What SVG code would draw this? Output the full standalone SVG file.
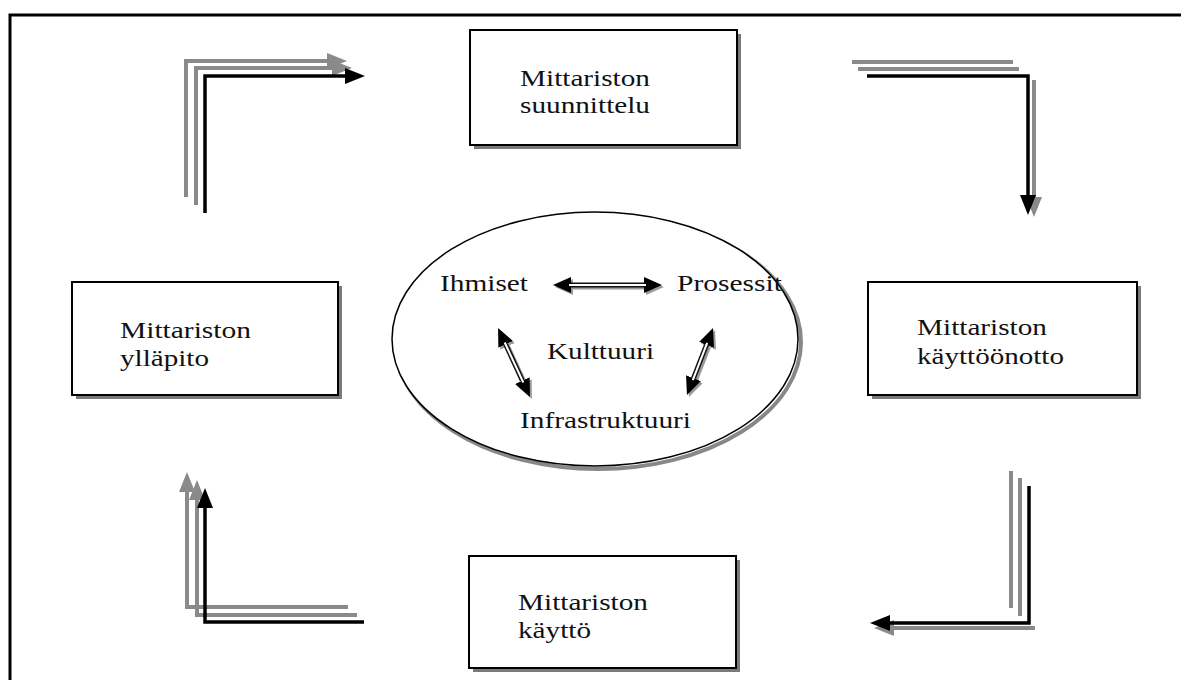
<svg xmlns="http://www.w3.org/2000/svg" width="1181" height="680" viewBox="0 0 1181 680">
  <style>
    .frame { fill: none; stroke: #000; stroke-width: 3; }
    .box { fill: #fff; stroke: #000; stroke-width: 2; }
    .shadow { fill: #7a7a7a; }
    .label { font-family: "Liberation Serif", "Times New Roman", serif; font-size: 23px; fill: #111; }
    .gray { fill: none; stroke: #8a8a8a; stroke-width: 4; }
    .black { fill: none; stroke: #000; stroke-width: 3.5; }
    .shaft { fill: none; stroke: #111; stroke-width: 5; }
    .shaft-in { fill: none; stroke: #fff; stroke-width: 2; }
    .shaft-sh { fill: none; stroke: #9a9a9a; stroke-width: 5; }
  </style>
  <defs>
    <marker id="headBlack" markerUnits="userSpaceOnUse" markerWidth="20" markerHeight="16" viewBox="0 0 20 16" refX="0" refY="8" orient="auto">
      <path d="M0,0 L20,8 L0,16 z" fill="#000"/>
    </marker>
    <marker id="headGray" markerUnits="userSpaceOnUse" markerWidth="20" markerHeight="16" viewBox="0 0 20 16" refX="0" refY="8" orient="auto">
      <path d="M0,0 L20,8 L0,16 z" fill="#8a8a8a"/>
    </marker>
    <marker id="tipBlack" markerUnits="userSpaceOnUse" markerWidth="18" markerHeight="16" viewBox="0 0 18 16" refX="0" refY="8" orient="auto-start-reverse">
      <path d="M0,0 L18,8 L0,16 z" fill="#000"/>
    </marker>
    <marker id="tipGray" markerUnits="userSpaceOnUse" markerWidth="18" markerHeight="16" viewBox="0 0 18 16" refX="0" refY="8" orient="auto-start-reverse">
      <path d="M0,0 L18,8 L0,16 z" fill="#9a9a9a"/>
    </marker>
  </defs>

  <rect width="1181" height="680" fill="#fff"/>
  <path class="frame" d="M10,680 V15 H1181"/>

  <!-- cycle connectors: triple stepped arrows -->
  <g id="connectors">
    <g id="arrow-top-left">
      <polyline class="gray" points="186,197 186,61 327,61" marker-end="url(#headGray)"/>
      <polyline class="gray" points="196,205 196,68 332,68" marker-end="url(#headGray)"/>
      <polyline class="black" points="205,213 205,76 345,76" marker-end="url(#headBlack)"/>
    </g>
    <g id="arrow-top-right">
      <line class="gray" x1="852" y1="62" x2="1013" y2="62"/>
      <line class="gray" x1="858" y1="69" x2="1019" y2="69"/>
      <line class="gray" x1="1034" y1="80" x2="1034" y2="197" marker-end="url(#headGray)"/>
      <polyline class="black" points="867,76 1028,76 1028,195" marker-end="url(#headBlack)"/>
    </g>
    <g id="arrow-bottom-right">
      <line class="gray" x1="1011" y1="471" x2="1011" y2="608"/>
      <line class="gray" x1="1020" y1="478" x2="1020" y2="616"/>
      <line class="gray" x1="1035" y1="628" x2="894" y2="628" marker-end="url(#headGray)"/>
      <polyline class="black" points="1029,486 1029,623 890,623" marker-end="url(#headBlack)"/>
    </g>
    <g id="arrow-bottom-left">
      <polyline class="gray" points="348,607 187,607 187,492" marker-end="url(#headGray)"/>
      <polyline class="gray" points="357,615 197,615 197,500" marker-end="url(#headGray)"/>
      <polyline class="black" points="364,622 205,622 205,508" marker-end="url(#headBlack)"/>
    </g>
  </g>

  <!-- phase boxes -->
  <g id="node-suunnittelu">
    <rect class="shadow" x="474" y="34" width="267" height="115"/>
    <rect class="box" x="470" y="30" width="267" height="115"/>
    <text class="label" x="520" y="86" textLength="130" lengthAdjust="spacingAndGlyphs">Mittariston</text>
    <text class="label" x="520" y="113" textLength="130" lengthAdjust="spacingAndGlyphs">suunnittelu</text>
  </g>
  <g id="node-yllapito">
    <rect class="shadow" x="76" y="286" width="266" height="113"/>
    <rect class="box" x="72" y="282" width="266" height="113"/>
    <text class="label" x="120" y="338" textLength="131" lengthAdjust="spacingAndGlyphs">Mittariston</text>
    <text class="label" x="120" y="366" textLength="89" lengthAdjust="spacingAndGlyphs">ylläpito</text>
  </g>
  <g id="node-kayttoonotto">
    <rect class="shadow" x="872" y="286" width="269" height="113"/>
    <rect class="box" x="868" y="282" width="269" height="113"/>
    <text class="label" x="917" y="335" textLength="130" lengthAdjust="spacingAndGlyphs">Mittariston</text>
    <text class="label" x="917" y="364" textLength="147" lengthAdjust="spacingAndGlyphs">käyttöönotto</text>
  </g>
  <g id="node-kaytto">
    <rect class="shadow" x="473" y="560" width="267" height="112"/>
    <rect class="box" x="469" y="556" width="267" height="112"/>
    <text class="label" x="518" y="610" textLength="130" lengthAdjust="spacingAndGlyphs">Mittariston</text>
    <text class="label" x="518" y="638" textLength="73" lengthAdjust="spacingAndGlyphs">käyttö</text>
  </g>

  <!-- central culture ellipse -->
  <g id="node-kulttuuri">
    <ellipse cx="598" cy="342" rx="203" ry="127" fill="none" stroke="#888" stroke-width="4"/>
    <ellipse cx="595" cy="339" rx="203" ry="127" fill="#fff" stroke="#000" stroke-width="1.5"/>
    <text class="label" x="440" y="291" textLength="88" lengthAdjust="spacingAndGlyphs">Ihmiset</text>
    <text class="label" x="677" y="291" textLength="105" lengthAdjust="spacingAndGlyphs">Prosessit</text>
    <text class="label" x="547" y="359" textLength="107" lengthAdjust="spacingAndGlyphs">Kulttuuri</text>
    <text class="label" x="520" y="428" textLength="171" lengthAdjust="spacingAndGlyphs">Infrastruktuuri</text>

    <g id="link-ihmiset-prosessit">
      <path class="shaft-sh" d="M573,287 L646,287" marker-start="url(#tipGray)" marker-end="url(#tipGray)"/>
      <path class="shaft" d="M571,285 L644,285" marker-start="url(#tipBlack)" marker-end="url(#tipBlack)"/>
      <path class="shaft-in" d="M569,285 L646,285"/>
    </g>
    <g id="link-ihmiset-infra">
      <path class="shaft-sh" d="M507.6,346.3 L524.4,382.7" marker-start="url(#tipGray)" marker-end="url(#tipGray)"/>
      <path class="shaft" d="M505.6,344.3 L522.4,380.7" marker-start="url(#tipBlack)" marker-end="url(#tipBlack)"/>
      <path class="shaft-in" d="M504.7,342.5 L523.3,382.5"/>
    </g>
    <g id="link-prosessit-infra">
      <path class="shaft-sh" d="M708.5,346.8 L695.5,380.2" marker-start="url(#tipGray)" marker-end="url(#tipGray)"/>
      <path class="shaft" d="M706.5,344.8 L693.5,378.2" marker-start="url(#tipBlack)" marker-end="url(#tipBlack)"/>
      <path class="shaft-in" d="M707.2,342.9 L692.8,380.1"/>
    </g>
  </g>
</svg>
